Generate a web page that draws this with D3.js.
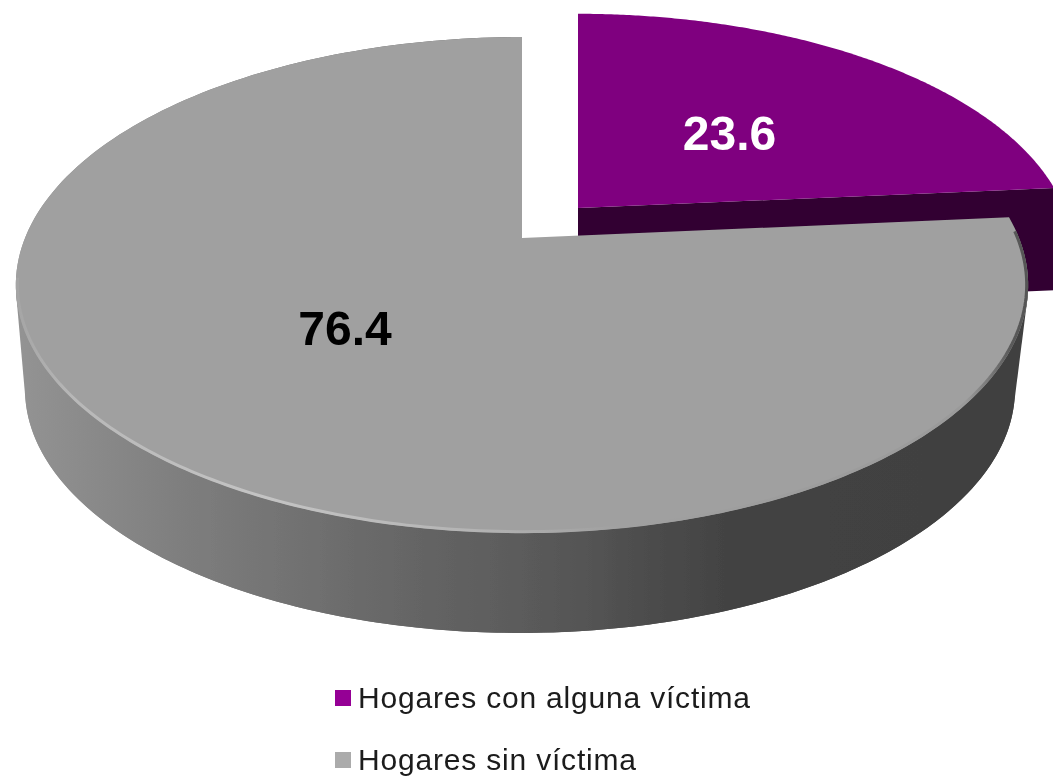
<!DOCTYPE html>
<html><head><meta charset="utf-8">
<script src="https://cdn.jsdelivr.net/npm/d3@7"></script>
<style>html,body{margin:0;padding:0;background:#fff;overflow:hidden}svg{display:block}</style>
</head><body><svg id="c" width="1053" height="777"></svg>
<script>
const categories = ["Hogares con alguna víctima", "Hogares sin víctima"];
const values = [23.6, 76.4];
const valueLabels = ["23.6", "76.4"];
const faceColors = ["#7f007f", "#a0a0a0"];
const labelColors = ["#ffffff", "#000000"];

const svg = d3.select("#c");
const defs = svg.append("defs");

const arcs = d3.pie().sort(null).value(d => d)(values);

// perspective projection of a flat disc
const K = 0.1895;
const project = (o, a) => {
  const w = 1 + K * Math.cos(a);
  return [o.x + o.R * Math.sin(a) / w, o.y - o.S * Math.cos(a) / w];
};
const topGray = {x: 522, y: 238, R: 497, S: 239};
const lowGray = {x: 520, y: 343, R: 486, S: 235};
const topPurp = {x: 578, y: 208, R: 486, S: 231};
const lowPurp = {x: 578, y: 310, R: 486, S: 229};

const rim = (o, a0, a1) => d3.range(0, 201).map(i => project(o, a0 + (a1 - a0) * i / 200));
const line = d3.line();

function grad(id, stops, x1, x2, y1 = 0, y2 = 0) {
  const g = defs.append("linearGradient").attr("id", id).attr("gradientUnits", "userSpaceOnUse")
    .attr("x1", x1).attr("x2", x2).attr("y1", y1).attr("y2", y2);
  stops.forEach(s => g.append("stop").attr("offset", s[0]).attr("stop-color", s[1]));
}
grad("wall", [[0, "#939393"], [0.17, "#7d7d7d"], [0.37, "#676767"], [0.53, "#585858"], [0.7, "#434343"], [1, "#404040"]], 20, 1026);
grad("bevel", [[0, "#a4a4a4"], [0.06, "#b8b8b8"], [0.25, "#c4c4c4"], [0.45, "#b4b4b4"], [0.6, "#a0a0a0"], [0.94, "#9a9a9a"], [0.985, "#5a5a5a"], [1, "#555555"]], 14, 1026);

const blur = defs.append("filter").attr("id", "soft").attr("x", "-2%").attr("y", "-2%").attr("width", "104%").attr("height", "104%");
blur.append("feGaussianBlur").attr("stdDeviation", 0.7);
const blurT = defs.append("filter").attr("id", "softT").attr("x", "-2%").attr("y", "-10%").attr("width", "104%").attr("height", "120%");
blurT.append("feGaussianBlur").attr("stdDeviation", 0.45);

const pie = svg.append("g").attr("filter", "url(#soft)");

// detached slice: cut face + top
const p = arcs[0];
const pEnd = p.endAngle;
pie.append("path").attr("fill", "#300030").attr("d", line([
  [topPurp.x, topPurp.y], project(topPurp, pEnd), project(lowPurp, pEnd), [lowPurp.x, lowPurp.y]
]) + "Z");
pie.append("path").attr("fill", faceColors[0]).attr("d", line([
  [topPurp.x, topPurp.y], ...rim(topPurp, p.startAngle, pEnd)
]) + "Z");

// large slice: wall band, tangent silhouette, top, rim highlight
const g = arcs[1];
const hullPts = [...rim(topGray, 1.78, 4.5), ...rim(lowGray, 1.78, 4.5)];
pie.append("path").attr("fill", "url(#wall)").attr("d", line(d3.polygonHull(hullPts)) + "Z");
pie.append("path").attr("fill", "url(#wall)").attr("d", line([
  ...rim(topGray, g.startAngle, g.endAngle), ...rim(lowGray, g.startAngle, g.endAngle).reverse()
]) + "Z");
pie.append("path").attr("fill", faceColors[1]).attr("d", line([
  [topGray.x, topGray.y], ...rim(topGray, g.startAngle, g.endAngle)
]) + "Z");
pie.append("path").attr("fill", "none").attr("stroke", "url(#bevel)").attr("stroke-width", 3)
  .attr("d", line(rim({...topGray, R: topGray.R - 1.5, S: topGray.S - 1}, g.startAngle + 0.06, 4.55)));

// value labels
const labelPos = [[729.5, 150], [345, 345]];
svg.selectAll("text.v").data(valueLabels).join("text").attr("class", "v")
  .attr("x", (d, i) => labelPos[i][0]).attr("y", (d, i) => labelPos[i][1])
  .attr("text-anchor", "middle").attr("fill", (d, i) => labelColors[i])
  .attr("font-family", "Liberation Sans").attr("font-weight", 700).attr("font-size", 48)
  .attr("filter", "url(#softT)")
  .text(d => d);

// legend
grad("sw0", [[0, "#950095"], [1, "#420042"]], 335, 351, 690, 706);
grad("sw1", [[0, "#ababab"], [1, "#5f5f5f"]], 335, 351, 752, 768);
const legendY = [698, 760];
const leg = svg.selectAll("g.l").data(categories).join("g").attr("class", "l")
  .attr("transform", (d, i) => `translate(335,${legendY[i]})`)
  .attr("filter", "url(#softT)");
leg.append("rect").attr("x", 0).attr("y", -8).attr("width", 16).attr("height", 16)
  .attr("fill", (d, i) => `url(#sw${i})`);
leg.append("text").attr("x", 23).attr("y", 10)
  .attr("font-family", "Liberation Sans").attr("font-size", 30).attr("fill", "#1a1a1a")
  .attr("textLength", (d, i) => [392, 278][i])
  .text(d => d);
</script></body></html>
